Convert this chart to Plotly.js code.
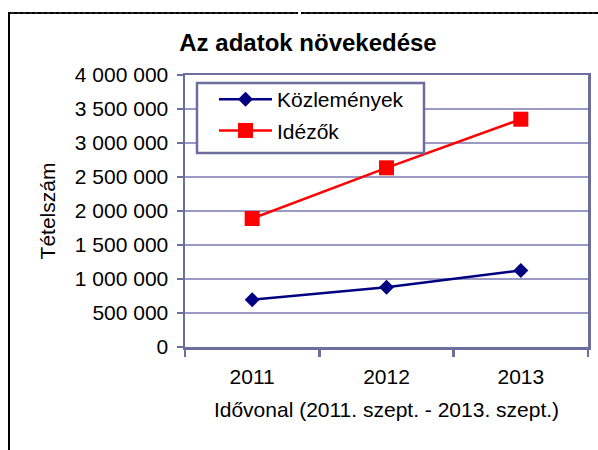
<!DOCTYPE html>
<html><head><meta charset="utf-8">
<script src="https://cdn.plot.ly/plotly-3.0.1.min.js"></script>
<style>
html,body{margin:0;padding:0;background:#fff;overflow:hidden}
#wrap{position:relative;width:598px;height:450px;overflow:hidden}
#chart{width:598px;height:450px}
.fl{position:absolute;background:#000;z-index:10;pointer-events:none}
#fa{left:8px;top:12px;width:290px;height:2px;background:repeating-linear-gradient(90deg,#000 0 3px,#222 3px 6px)}
#fb{left:301px;top:12px;width:297px;height:2px;background:repeating-linear-gradient(90deg,#000 0 3px,#222 3px 6px)}
#fleft{left:8px;top:12px;width:2px;height:438px}
</style>
</head><body><div id="wrap"><div id="chart"></div><div id="fa" class="fl"></div><div id="fb" class="fl"></div><div id="fleft" class="fl"></div></div>
<script>
const years = ['2011', '2012', '2013'];
const kozlemenyek = [695000, 880000, 1125000];
const idezok = [1890000, 2635000, 3350000];
const seriesNames = ['Közlemények', 'Idézők'];
const yTickVals = [0, 500000, 1000000, 1500000, 2000000, 2500000, 3000000, 3500000, 4000000];
const yTickText = ['0', '500 000', '1 000 000', '1 500 000', '2 000 000', '2 500 000', '3 000 000', '3 500 000', '4 000 000'];

const axisColor = '#6e6e9e';
const gridColor = '#9a9ac4';
const font = 'Liberation Sans, Arial, sans-serif';

const traces = [
  {x: years, y: kozlemenyek, name: seriesNames[0], legendgroup: 'a', type: 'scatter', mode: 'lines+markers',
   line: {color: '#000080', width: 2.5}, marker: {symbol: 'diamond', size: 11.5, color: '#000080'}},
  {x: years, y: idezok, name: seriesNames[1], legendgroup: 'b', type: 'scatter', mode: 'lines+markers',
   line: {color: '#ff0000', width: 2.5}, marker: {symbol: 'square', size: 15, color: '#ff0000'}}
];

const px = v => (v - 185) / 403;
const py = v => (347 - v) / 272;

const layout = {
  width: 598, height: 450,
  margin: {l: 185, r: 10, t: 75, b: 103},
  paper_bgcolor: '#fff', plot_bgcolor: '#fff',
  font: {family: font, size: 21, color: '#000'},
  showlegend: true,
  title: {text: 'Az adatok növekedése', font: {family: font, size: 24, color: '#000', weight: 'bold'},
          x: 308/598, xref: 'container', xanchor: 'center', y: 1 - 43/450, yref: 'container', yanchor: 'middle'},
  xaxis: {type: 'category', range: [-0.5, 2.5], tickson: 'boundaries', ticks: 'outside', ticklen: 7,
          tickwidth: 2.5, tickcolor: axisColor, showline: true, linecolor: axisColor, linewidth: 2.5,
          mirror: true, showgrid: false, tickfont: {size: 21}, ticklabelstandoff: 9,
          title: {text: 'Idővonal (2011. szept. - 2013. szept.)', font: {size: 21}, standoff: 16}},
  yaxis: {range: [0, 4000000], tickvals: yTickVals, ticktext: yTickText, ticks: 'outside', ticklen: 6,
          tickwidth: 2.5, tickcolor: axisColor, showline: true, linecolor: axisColor, linewidth: 2.5,
          mirror: true, showgrid: true, gridcolor: gridColor, gridwidth: 1.3, zeroline: false,
          tickfont: {size: 21}, ticklabelstandoff: 4,
          title: {text: 'Tételszám', font: {size: 21}, standoff: 14}},
  legend: {x: px(214), y: py(79), xanchor: 'left', yanchor: 'top', bgcolor: 'rgba(0,0,0,0)',
           borderwidth: 0, font: {size: 21}, itemwidth: 53, tracegroupgap: 1},
  shapes: [
    {type: 'rect', xref: 'paper', yref: 'paper', x0: px(197), x1: px(424), y0: py(153), y1: py(83),
     line: {color: axisColor, width: 2.5}, fillcolor: '#fff', layer: 'above'}
  ]
};

Plotly.newPlot('chart', traces, layout, {displayModeBar: false, staticPlot: true});
</script>
</body></html>
